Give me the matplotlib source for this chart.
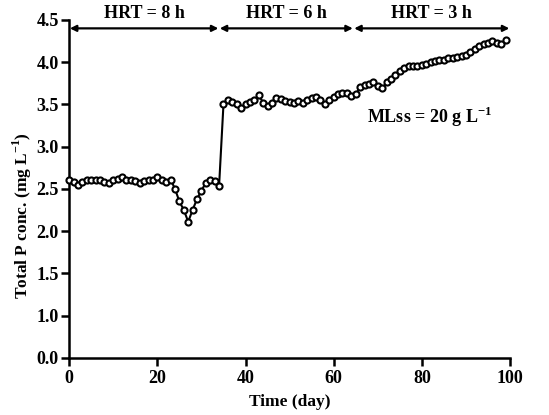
import matplotlib
matplotlib.use("Agg")
import matplotlib.pyplot as plt
import numpy as np

# ---- data ----
days = list(range(0, 100))
total_p = [
    2.60, 2.58, 2.54, 2.58, 2.61, 2.61, 2.61, 2.61, 2.58, 2.57,
    2.61, 2.62, 2.64, 2.61, 2.60, 2.59, 2.57, 2.59, 2.60, 2.61,
    2.64, 2.60, 2.58, 2.61, 2.50, 2.35, 2.25, 2.11, 2.25, 2.38,
    2.48, 2.57, 2.60, 2.59, 2.53, 3.50, 3.55, 3.53, 3.50, 3.46,
    3.50, 3.53, 3.55, 3.61, 3.52, 3.48, 3.52, 3.57, 3.56, 3.54,
    3.53, 3.52, 3.54, 3.52, 3.55, 3.58, 3.59, 3.55, 3.50, 3.55,
    3.59, 3.62, 3.63, 3.63, 3.60, 3.62, 3.70, 3.73, 3.74, 3.76,
    3.72, 3.69, 3.76, 3.80, 3.85, 3.89, 3.93, 3.95, 3.95, 3.96,
    3.97, 3.98, 4.00, 4.01, 4.02, 4.03, 4.05, 4.05, 4.06, 4.07,
    4.08, 4.12, 4.16, 4.19, 4.21, 4.23, 4.25, 4.23, 4.21, 4.26,
]
phase_labels = ["HRT = 8 h", "HRT = 6 h", "HRT = 3 h"]
phase_bounds = [0, 34, 64.5, 100]
yticks = [0.0, 1.0, 1.5, 2.0, 2.5, 3.0, 3.5, 4.0, 4.5]
xticks = [0, 20, 40, 60, 80, 100]

plt.rcParams['font.family'] = ['Liberation Serif', 'DejaVu Serif']
plt.rcParams['mathtext.fontset'] = 'custom'
plt.rcParams['mathtext.rm'] = 'Liberation Serif'
plt.rcParams['mathtext.bf'] = 'Liberation Serif:bold'

def fwd(y):
    y = np.asarray(y, dtype=float)
    return np.where(y < 1.0, y * 0.5, y - 0.5)

def inv(v):
    v = np.asarray(v, dtype=float)
    return np.where(v < 0.5, v * 2.0, v + 0.5)

FS = 13

fig = plt.figure(figsize=(5.49, 4.15), dpi=100)
ax = fig.add_axes([0.126, 0.138, 0.803, 0.814])
ax.set_yscale('function', functions=(fwd, inv))

ax.plot(days, total_p, color='black', lw=1.5, marker='o', markersize=4.4,
        markerfacecolor='white', markeredgecolor='black', markeredgewidth=1.5,
        clip_on=False, zorder=3)

ax.set_xlim(0, 100)
ax.set_ylim(0, 4.5)
ax.set_xticks(xticks)
ax.set_yticks(yticks)
ax.set_yticklabels([f"{t:.1f}" for t in yticks])
ax.minorticks_off()

for s in ['top', 'right']:
    ax.spines[s].set_visible(False)
for s in ['left', 'bottom']:
    ax.spines[s].set_linewidth(1.8)
ax.tick_params(axis='both', direction='out', length=6, width=1.8,
               labelsize=FS, pad=1.5)
ax.tick_params(axis='x', pad=3)
for lab in ax.get_xticklabels() + ax.get_yticklabels():
    lab.set_fontweight('bold')

ax.set_xlabel("Time (day)", fontsize=FS - 0.5, fontweight='bold', labelpad=5)
ax.set_ylabel(r"Total P conc. (mg L$^{\mathbf{-1}}$)", fontsize=FS - 0.5,
              fontweight='bold')
ax.yaxis.set_label_coords(-0.08, 0.42)

arrow_y = 4.4
for i, lab in enumerate(phase_labels):
    x0, x1 = phase_bounds[i], phase_bounds[i + 1]
    ax.annotate("", xy=(x1, arrow_y), xytext=(x0, arrow_y),
                arrowprops=dict(arrowstyle='<|-|>', color='black', lw=1.6,
                                mutation_scale=9, shrinkA=0.5, shrinkB=0.5),
                annotation_clip=False)
    ax.text((x0 + x1) / 2, 4.58, lab, ha='center', va='center',
            fontsize=FS, fontweight='bold', clip_on=False)

ax.text(67.5, 3.35, r"MLss = 20 g L$^{\mathbf{-1}}$", ha='left', va='center',
        fontsize=FS, fontweight='bold')

fig.savefig("out.png", dpi=100)
